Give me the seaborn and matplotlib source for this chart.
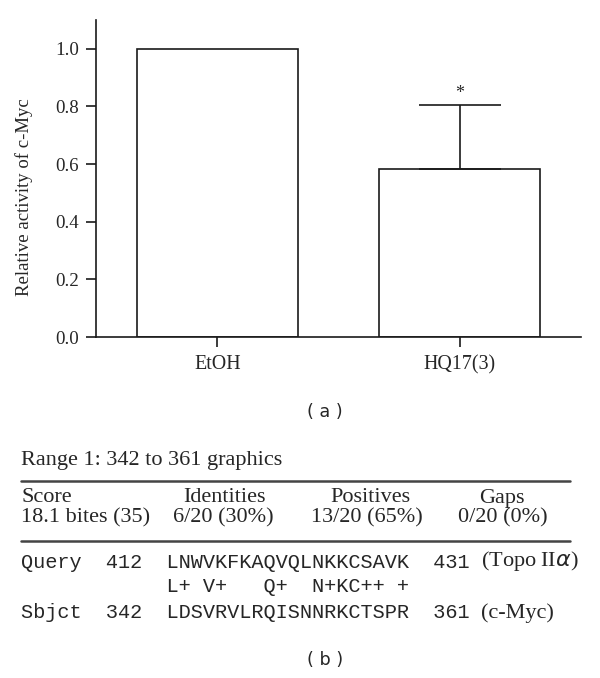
import matplotlib
matplotlib.use("Agg")
import matplotlib.pyplot as plt
import seaborn as sns
import pandas as pd

categories = ["EtOH", "HQ17(3)"]
values = [1.0, 0.582]
err_upper = [0.0, 0.223]
yticks = [0.0, 0.2, 0.4, 0.6, 0.8, 1.0]

table_header = ["Score", "Identities", "Positives", "Gaps"]
table_values = ["18.1 bites (35)", "6/20 (30%)", "13/20 (65%)", "0/20 (0%)"]
query_line = "Query  412  LNWVKFKAQVQLNKKCSAVK  431"
match_line = "            L+ V+   Q+  N+KC++ +"
sbjct_line = "Sbjct  342  LDSVRVLRQISNNRKCTSPR  361"

sns.set_theme(style="ticks")
plt.rcParams['font.family'] = ['Liberation Serif', 'DejaVu Serif']

fig = plt.figure(figsize=(6, 6.78), dpi=100)
ax = fig.add_axes([96/600, 1-337/678, (581-96)/600, (337-20)/678])

df = pd.DataFrame({"cat": categories, "val": values})
sns.barplot(data=df, x="cat", y="val", ax=ax, color="white", edgecolor="#1a1a1a",
            linewidth=1.2, width=0.665, errorbar=None, saturation=1)
ax.errorbar([1], [values[1]], yerr=[[0], [err_upper[1]]], fmt="none",
            ecolor="#1a1a1a", elinewidth=1.2, capsize=29.5, capthick=1.2)
ax.text(1, values[1] + err_upper[1] + 0.01, "*", ha="center", va="bottom", fontsize=13)

ax.set_xlim(-0.5, 1.5)
ax.set_ylim(0, 1.1)
ax.set_yticks(yticks)
ax.set_yticklabels([f"{t:.1f}" for t in yticks])
ax.set_xlabel("")
ax.set_ylabel("Relative activity of c-Myc", fontsize=13.5)
ax.yaxis.set_label_coords((33 - 96) / 485, (337 - 197) / 317)
ax.tick_params(axis="both", width=1.2, length=7.2, color="#1a1a1a")
ax.tick_params(axis="y", labelsize=13.6, pad=5)
ax.tick_params(axis="x", labelsize=14.4, pad=6)
for s in ["top", "right"]:
    ax.spines[s].set_visible(False)
for s in ["left", "bottom"]:
    ax.spines[s].set_linewidth(1.2)
    ax.spines[s].set_color("#1a1a1a")

def fy(y):
    return 1 - y / 678

def fx(x):
    return x / 600

fig.text(fx(325), fy(412), "( a )", ha="center", va="center", fontsize=12.7,
         family=["DejaVu Sans"])

fs = 16
fig.text(fx(21), fy(461), "Range 1: 342 to 361 graphics", ha="left", va="center", fontsize=fs)
fig.add_artist(plt.Line2D([fx(21), fx(570)], [fy(481), fy(481)], color="#444444", lw=1.8))
hx = [None, 224, 370, 502]
fig.text(fx(21), fy(498), table_header[0], ha="left", va="center", fontsize=fs)
for i in range(1, 4):
    fig.text(fx(hx[i]), fy(498), table_header[i], ha="center", va="center", fontsize=fs)
vx = [None, 223, 367, 503]
fig.text(fx(21), fy(518), table_values[0], ha="left", va="center", fontsize=fs)
for i in range(1, 4):
    fig.text(fx(vx[i]), fy(518), table_values[i], ha="center", va="center", fontsize=fs)
fig.add_artist(plt.Line2D([fx(21), fx(570)], [fy(541), fy(541)], color="#444444", lw=1.8))

mono = dict(family=["Liberation Mono"], fontsize=14.6, ha="left", va="center")
fig.text(fx(21), fy(562), query_line, **mono)
fig.text(fx(21), fy(586), match_line, **mono)
fig.text(fx(21), fy(613), sbjct_line, **mono)
fig.text(fx(481), fy(561), "(Topo II$\\it{\\alpha}$)", ha="left", va="center", fontsize=fs)
fig.text(fx(481), fy(613), "(c-Myc)", ha="left", va="center", fontsize=fs)

fig.text(fx(325), fy(660), "( b )", ha="center", va="center", fontsize=12.7,
         family=["DejaVu Sans"])

fig.savefig("out.png", dpi=100)
